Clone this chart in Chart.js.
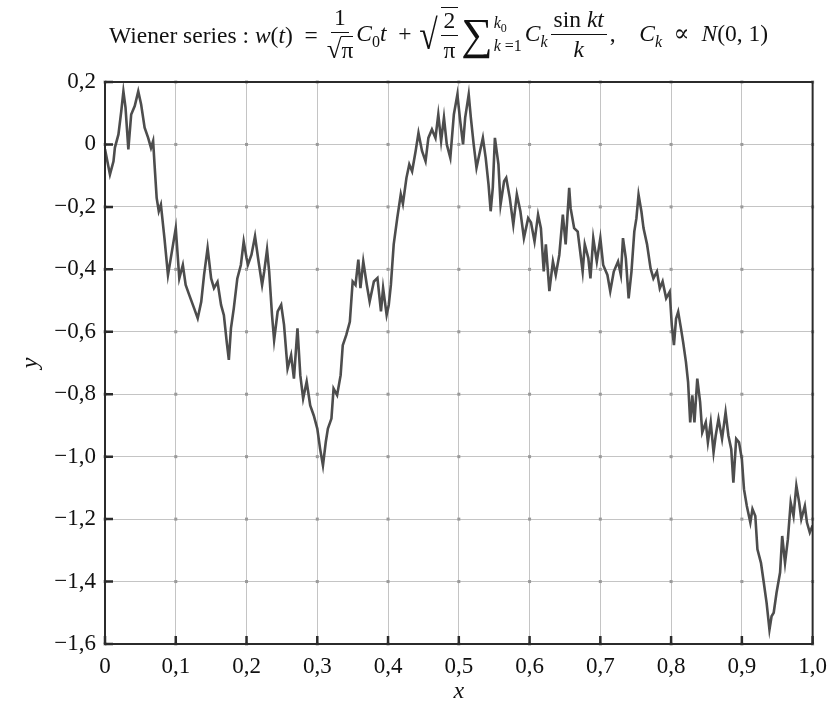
<!DOCTYPE html>
<html>
<head>
<meta charset="utf-8">
<script src="https://cdn.jsdelivr.net/npm/chart.js@4/dist/chart.umd.min.js"></script>
<style>
  html, body { margin: 0; padding: 0; background: #fff; }
  #wrap { position: relative; width: 836px; height: 707px; }
  #title {
    position: absolute; left: 109px; top: 1px; height: 68px;
    display: flex; align-items: center; white-space: nowrap;
    font-family: "Liberation Serif", "DejaVu Serif", serif; font-size: 23.5px; color: #111;
  }
  #title i { font-style: italic; }
  .frac { display: inline-flex; flex-direction: column; align-items: center; vertical-align: middle; line-height: 1.1; margin: 0 3px; }
  .frac > span:first-child { border-bottom: 1.5px solid #111; padding: 0 3px 1px; }
  .frac > span:last-child { padding-top: 2px; }
  .ol { border-top: 1.5px solid #111; }
  .rad { font-size: 27px; }
  .radbig { font-size: 42px; line-height: 1; transform: scaleX(0.8); display: inline-block; margin-right: -3px; }
  .sum { font-size: 44px; line-height: 1; }
  .limits { display: inline-flex; flex-direction: column; font-size: 16px; line-height: 1.3; margin: 0 3px 0 1px; }
  sub, sup { font-size: 16px; }
  canvas { position: absolute; left: 0; top: 0; }
</style>
</head>
<body>
<div id="wrap">
  <canvas id="wienerChart" width="836" height="707"></canvas>
  <div id="title">
    <span>Wiener series : <i>w</i>(<i>t</i>) &nbsp;=&nbsp;</span>
    <span class="frac"><span>1</span><span><span class="rad">√</span><span class="ol">π</span></span></span>
    <span><i>C</i><sub>0</sub><i>t</i> &nbsp;+&nbsp;</span>
    <span class="radbig">√</span><span class="frac ol"><span>2</span><span>π</span></span>
    <span class="sum">∑</span><span class="limits"><span><i>k</i><sub style="font-size:12px">0</sub></span><span><i>k</i> =1</span></span>
    <span><i>C</i><sub><i>k</i></sub></span>
    <span class="frac"><span>sin <i>kt</i></span><span><i>k</i></span></span>
    <span>, &nbsp;&nbsp; <i>C</i><sub><i>k</i></sub> &nbsp;∝&nbsp; <i>N</i>(0, 1)</span>
  </div>
</div>
<script>
// values
const tValues = [
  0, 0.007, 0.012, 0.014, 0.019, 0.023, 0.026, 0.029, 0.033, 0.037, 0.042, 0.047, 0.051, 0.056, 0.061, 0.065,
  0.068, 0.07, 0.073, 0.076, 0.079, 0.084, 0.089, 0.093, 0.1, 0.105, 0.11, 0.114, 0.119, 0.126, 0.131, 0.136,
  0.14, 0.145, 0.15, 0.154, 0.159, 0.164, 0.168, 0.172, 0.175, 0.178, 0.182, 0.187, 0.192, 0.196, 0.2,
  0.202, 0.207, 0.212, 0.217, 0.222, 0.225, 0.229, 0.232, 0.236, 0.239, 0.244, 0.249, 0.253, 0.258, 0.263,
  0.267, 0.272, 0.276, 0.28, 0.285, 0.29, 0.295, 0.3, 0.304, 0.308, 0.312, 0.315, 0.32, 0.323, 0.328, 0.333,
  0.336, 0.341, 0.346, 0.35, 0.354, 0.358, 0.361, 0.365, 0.37, 0.374, 0.38, 0.385, 0.39, 0.393, 0.398,
  0.401, 0.404, 0.408, 0.413, 0.418, 0.421, 0.426, 0.43, 0.434, 0.439, 0.443, 0.448, 0.453, 0.457, 0.462,
  0.467, 0.471, 0.475, 0.479, 0.483, 0.488, 0.493, 0.498, 0.502, 0.506, 0.509, 0.514, 0.517, 0.521, 0.525,
  0.53, 0.534, 0.538, 0.542, 0.545, 0.548, 0.551, 0.556, 0.559, 0.564, 0.567, 0.572, 0.577, 0.582, 0.587,
  0.592, 0.598,
  0.602, 0.607, 0.612, 0.616, 0.62, 0.623, 0.628, 0.633, 0.637, 0.642, 0.647, 0.651, 0.656, 0.658, 0.663,
  0.668, 0.675, 0.678, 0.683, 0.686, 0.69, 0.695, 0.7, 0.704, 0.71, 0.714, 0.719, 0.725, 0.729, 0.732, 0.736,
  0.74, 0.744, 0.748, 0.751, 0.754, 0.758, 0.761, 0.766, 0.771, 0.775, 0.78, 0.784, 0.788, 0.793, 0.798, 0.801,
  0.804, 0.807, 0.81, 0.814, 0.817, 0.821, 0.824, 0.827, 0.83, 0.833, 0.837, 0.841, 0.844, 0.849, 0.852,
  0.856, 0.86, 0.863, 0.867, 0.872, 0.877, 0.881, 0.885, 0.888, 0.892, 0.896, 0.9, 0.903, 0.907, 0.912,
  0.915, 0.919, 0.922, 0.927, 0.931, 0.935, 0.939, 0.942, 0.945, 0.949, 0.954, 0.957, 0.961, 0.965, 0.969,
  0.973, 0.977, 0.981, 0.984, 0.989, 0.992, 0.996, 1.0
];
const wValues = [
  -0.015, -0.096, -0.054, -0.01, 0.032, 0.107, 0.17, 0.118, -0.016, 0.096, 0.123, 0.17, 0.129, 0.054, 0.021, -0.011,
  0.011, -0.064, -0.171, -0.214, -0.193, -0.3, -0.418, -0.364, -0.268, -0.429, -0.386, -0.45, -0.482, -0.525, -0.557, -0.504,
  -0.418, -0.332, -0.429, -0.46, -0.44, -0.514, -0.547, -0.632, -0.69, -0.589, -0.525, -0.429, -0.386, -0.311, -0.364,
  -0.385, -0.353, -0.294, -0.375, -0.45, -0.407, -0.337, -0.407, -0.546, -0.627, -0.535, -0.514, -0.578, -0.718, -0.675,
  -0.75, -0.589, -0.739, -0.814, -0.76, -0.836, -0.868, -0.91, -0.975, -1.028, -0.953, -0.91, -0.878, -0.782, -0.803, -0.739,
  -0.643, -0.61, -0.568, -0.439, -0.45, -0.369, -0.46, -0.375, -0.45, -0.503, -0.439, -0.428, -0.535, -0.46, -0.546,
  -0.514, -0.45, -0.32, -0.236, -0.16, -0.19, -0.107, -0.064, -0.086, -0.021, 0.037, -0.021, -0.054, 0.021, 0.048,
  0.021, 0.096, 0.011, 0.086, 0, -0.043, 0.096, 0.16, 0.075, 0, 0.086, 0.16, 0.086, 0, -0.075,
  -0.021, 0.021, -0.043, -0.129, -0.214, -0.139, 0.021, -0.064, -0.193, -0.118, -0.107, -0.171, -0.257, -0.16, -0.214,
  -0.3, -0.236,
  -0.25, -0.311, -0.225, -0.268, -0.407, -0.32, -0.47, -0.375, -0.418, -0.354, -0.225, -0.32, -0.139, -0.204, -0.268,
  -0.279, -0.407, -0.32, -0.364, -0.429, -0.3, -0.375, -0.3, -0.386, -0.418, -0.47, -0.407, -0.375, -0.418, -0.3, -0.364,
  -0.493, -0.407, -0.279, -0.236, -0.161, -0.214, -0.268, -0.32, -0.397, -0.429, -0.407, -0.461, -0.439, -0.493, -0.472, -0.579,
  -0.643, -0.558, -0.536, -0.59, -0.633, -0.697, -0.761, -0.89, -0.804, -0.89, -0.75, -0.825, -0.922, -0.89, -0.954,
  -0.89, -0.986, -0.933, -0.879, -0.943, -0.858, -0.933, -0.976, -1.083, -0.943, -0.954, -1.008, -1.104, -1.158, -1.211,
  -1.168, -1.19, -1.297, -1.34, -1.404, -1.469, -1.554, -1.511, -1.5, -1.436, -1.371, -1.254, -1.34, -1.265, -1.147,
  -1.19, -1.093, -1.147, -1.2, -1.158, -1.211, -1.243, -1.22
];
const xTickLabels = ["0", "0,1", "0,2", "0,3", "0,4", "0,5", "0,6", "0,7", "0,8", "0,9", "1,0"];
const yTickLabels = ["0,2", "0", "\u22120,2", "\u22120,4", "\u22120,6", "\u22120,8", "\u22121,0", "\u22121,2", "\u22121,4", "\u22121,6"];

const serif = '"Liberation Serif", "DejaVu Serif", serif';
const points = tValues.map((t, i) => ({ x: t, y: wValues[i] }));

// frame around the plot, dots on grid crossings, inward ticks on left and bottom
const frameAndTicks = {
  id: "frameAndTicks",
  beforeDatasetsDraw(chart) {
    const { ctx, scales } = chart;
    ctx.save();
    ctx.fillStyle = "#9a9a9a";
    scales.x.ticks.forEach((tx) => {
      const px = scales.x.getPixelForValue(tx.value);
      scales.y.ticks.forEach((ty) => {
        const py = scales.y.getPixelForValue(ty.value);
        ctx.fillRect(px - 1.5, py - 1.5, 3, 3);
      });
    });
    ctx.restore();
  },
  afterDatasetsDraw(chart) {
    const { ctx, chartArea: a, scales } = chart;
    ctx.save();
    ctx.strokeStyle = "#2b2b2b";
    ctx.lineWidth = 2;
    ctx.strokeRect(a.left, a.top, a.right - a.left, a.bottom - a.top);
    ctx.lineWidth = 2.5;
    ctx.beginPath();
    scales.y.ticks.forEach((tk) => {
      const py = scales.y.getPixelForValue(tk.value);
      ctx.moveTo(a.left, py);
      ctx.lineTo(a.left + 8, py);
    });
    scales.x.ticks.forEach((tk) => {
      const px = scales.x.getPixelForValue(tk.value);
      ctx.moveTo(px, a.bottom);
      ctx.lineTo(px, a.bottom - 8);
    });
    ctx.stroke();
    ctx.restore();
  },
};

new Chart(document.getElementById("wienerChart"), {
  type: "line",
  data: {
    datasets: [
      {
        data: points,
        borderColor: "#4d4d4d",
        borderWidth: 2.6,
        pointRadius: 0,
        tension: 0,
      },
    ],
  },
  options: {
    responsive: false,
    animation: false,
    layout: { padding: { top: 82, right: 17, left: 0, bottom: 0 } },
    plugins: { legend: { display: false }, tooltip: { enabled: false } },
    scales: {
      x: {
        type: "linear",
        min: 0,
        max: 1,
        ticks: {
          stepSize: 0.1,
          padding: 9,
          color: "#111",
          font: { family: serif, size: 23 },
          callback: (v, i) => xTickLabels[i],
        },
        grid: { color: "#c4c4c4", lineWidth: 1, drawTicks: false },
        border: { display: false },
        title: {
          display: true,
          text: "x",
          color: "#111",
          font: { family: serif, size: 24, style: "italic" },
          padding: { top: 0, bottom: 1 },
        },
        afterFit: (s) => { s.height = 63; },
      },
      y: {
        min: -1.6,
        max: 0.2,
        ticks: {
          stepSize: 0.2,
          padding: 9,
          color: "#111",
          font: { family: serif, size: 23 },
          callback: (v, i, all) => yTickLabels[all.length - 1 - i],
        },
        grid: { color: "#c4c4c4", lineWidth: 1, drawTicks: false },
        border: { display: false },
        title: {
          display: true,
          text: "y",
          color: "#111",
          font: { family: serif, size: 24, style: "italic" },
          padding: { top: 16, bottom: 0 },
        },
        afterFit: (s) => { s.width = 105; },
      },
    },
  },
  plugins: [frameAndTicks],
});
</script>
</body>
</html>
